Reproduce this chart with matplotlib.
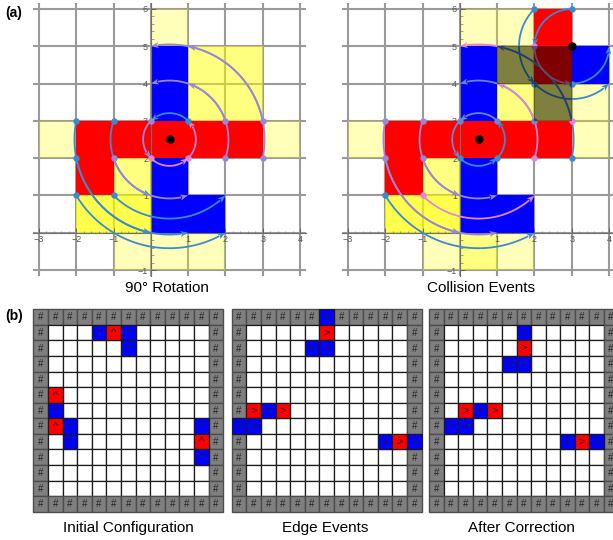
import numpy as np
import matplotlib
matplotlib.use('Agg')
import matplotlib.pyplot as plt
from matplotlib.patches import Rectangle, Polygon
from matplotlib.ticker import MultipleLocator, FixedLocator

plt.rcParams['font.family'] = ['Liberation Sans', 'DejaVu Sans']

W, H = 613, 540
fig = plt.figure(figsize=(W / 100, H / 100), dpi=100)


def ax_px(l, t, r, b):
    return fig.add_axes([l / W, 1 - b / H, (r - l) / W, (b - t) / H])


# ---------------- data: panel (a) ----------------
red_cells = [(-2, 2), (-1, 2), (0, 2), (1, 2), (2, 2), (-2, 1)]
blue_cells = [(0, 3), (0, 4), (0, 0), (0, 1), (1, 0)]
red_cells_2 = [(2, 5), (2, 4)]
blue_cells_2 = [(3, 4)]
overlay_cells = [(1, 4), (2, 4), (2, 3)]

yellow_left = {1: [(0, 5), (-3, 2), (3, 2), (-1, -1), (0, -1), (1, -1)],
               2: [(1, 3), (1, 4), (2, 3), (2, 4), (-1, 1)],
               3: [(-2, 0), (-1, 0)]}
yellow_right = {1: [(0, 5), (1, 5), (-3, 2), (3, 2), (3, 3), (-1, -1), (1, -1)],
                2: [(1, 3), (1, 4), (2, 3), (-1, 1), (0, -1)],
                3: [(-2, 0), (-1, 0)]}

center_1 = (0.5, 2.5)
center_2 = (3, 5)
# arc start points (rotated 90 deg CCW about centre) and colour code
arcs_left = [(-2, 3, 'b'), (-1, 3, 'b'), (0, 3, 'u'), (1, 3, 'b'), (2, 3, 'u'), (3, 3, 'u'),
             (-2, 2, 'b'), (-1, 2, 'u'), (0, 2, 'p'), (1, 2, 'p'), (2, 2, 'u'), (3, 2, 'u'),
             (-2, 1, 'b'), (-1, 1, 'b')]
arcs_right = [(-2, 3, 'u'), (-1, 3, 'u'), (0, 3, 's'), (1, 3, 's'), (2, 3, 's'), (3, 3, 'p'),
              (-2, 2, 'u'), (-1, 2, 'u'), (0, 2, 'b'), (1, 2, 'b'), (2, 2, 'p'), (3, 2, 'b'),
              (-2, 1, 'b'), (-1, 1, 'p')]
arcs_right_2 = [(2, 6, 'b'), (3, 6, 'b'), (2, 5, 'p'), (2, 4, 'b'), (3, 4, 'b')]

x_ticks = [-3, -2, -1, 1, 2, 3, 4]
y_ticks = [-1, 1, 2, 3, 4, 5, 6]

# ---------------- data: panel (b) ----------------
grid_n = 13
init_cells = [(1, 4, 'B', '^'), (1, 5, 'R', '^'), (1, 6, 'B', '^'), (2, 6, 'B', '^'),
              (5, 1, 'R', '^'), (6, 1, 'B', '^'), (7, 1, 'R', '^'), (7, 2, 'B', '^'),
              (8, 2, 'B', '^'), (7, 11, 'B', '^'), (8, 11, 'R', '^'), (9, 11, 'B', '^')]
edge_cells = [(0, 6, 'B', '>'), (1, 6, 'R', '>'), (2, 5, 'B', '>'), (2, 6, 'B', '>'),
              (6, 1, 'R', '>'), (6, 2, 'B', '>'), (6, 3, 'R', '>'), (7, 0, 'B', '>'),
              (7, 1, 'B', '>'), (8, 10, 'B', '>'), (8, 11, 'R', '>'), (8, 12, 'B', '>')]
corr_cells = [(1, 6, 'B', '>'), (2, 6, 'R', '>'), (3, 5, 'B', '>'), (3, 6, 'B', '>'),
              (6, 2, 'R', '>'), (6, 3, 'B', '>'), (6, 4, 'R', '>'), (7, 1, 'B', '>'),
              (7, 2, 'B', '>'), (8, 9, 'B', '>'), (8, 10, 'R', '>'), (8, 11, 'B', '>')]

# ---------------- styles ----------------
ARC_COL = {'b': '#3a8ad0', 'u': '#9a86d8', 'p': '#e585d8', 's': '#6a86d6'}
YEL_ALPHA = {1: 0.27, 2: 0.5, 3: 0.7}
GRID_COL = '#9a9a9a'


def draw_arc(ax, c, s, col, z=3):
    cx, cy = c
    sx, sy = s
    r = np.hypot(sx - cx, sy - cy)
    a0 = np.arctan2(sy - cy, sx - cx)
    a1 = a0 + np.pi / 2
    L = 0.21
    wd = 0.08
    ab = a1 - L / r
    t = np.linspace(a0, ab + 0.02 / r, 80)
    ax.plot(cx + r * np.cos(t), cy + r * np.sin(t), color=col, lw=1.3, zorder=z,
            solid_capstyle='butt')
    tip = np.array([cx + r * np.cos(a1), cy + r * np.sin(a1)])
    base = np.array([cx + r * np.cos(ab), cy + r * np.sin(ab)])
    d = tip - base
    d /= np.hypot(*d)
    n = np.array([-d[1], d[0]])
    notch = base + 0.05 * d
    pts = [tip, base + wd * n, notch, base - wd * n]
    ax.add_patch(Polygon(pts, closed=True, facecolor=col, edgecolor='none', zorder=z))
    ax.plot(sx, sy, 'o', ms=4.6, color=col, mec='none', zorder=z + 0.5)


def draw_panel(ax, yellow, arcs, xmax, extra=False):
    ax.set_xlim(-3.15, xmax)
    ax.set_ylim(-1.15, 6.15)
    for x in range(-3, 5):
        ax.axvline(x, color=GRID_COL, lw=1.5, zorder=0.5)
    for y in range(-1, 7):
        ax.axhline(y, color=GRID_COL, lw=1.5, zorder=0.5)
    for lvl, cells in yellow.items():
        for (x, y) in cells:
            ax.add_patch(Rectangle((x, y), 1, 1, facecolor='#ffff00', alpha=YEL_ALPHA[lvl],
                                   edgecolor='none', zorder=1))
    reds = red_cells + (red_cells_2 if extra else [])
    blues = blue_cells + (blue_cells_2 if extra else [])
    for (x, y) in reds:
        ax.add_patch(Rectangle((x, y), 1, 1, facecolor='#ff0000', edgecolor='none', zorder=2))
    for (x, y) in blues:
        ax.add_patch(Rectangle((x, y), 1, 1, facecolor='#0000ff', edgecolor='none', zorder=2))
    for sx, sy, cc in arcs:
        draw_arc(ax, center_1, (sx, sy), ARC_COL[cc])
    ax.plot(*center_1, 'o', ms=5, color='black', zorder=5)
    if extra:
        for sx, sy, cc in arcs_right_2:
            draw_arc(ax, center_2, (sx, sy), ARC_COL[cc])
        for (x, y) in overlay_cells:
            ax.add_patch(Rectangle((x, y), 1, 1, facecolor='black', alpha=0.5,
                                   edgecolor='none', zorder=3.7))
        ax.plot(*center_2, 'o', ms=5, color='black', zorder=5)
    for sp in ['top', 'right']:
        ax.spines[sp].set_visible(False)
    ax.spines['left'].set_position(('data', 0))
    ax.spines['bottom'].set_position(('data', 0))
    for sp in ['left', 'bottom']:
        ax.spines[sp].set_color('#707070')
        ax.spines[sp].set_linewidth(0.8)
        ax.spines[sp].set_zorder(2.5)
    ax.xaxis.set_major_locator(FixedLocator(x_ticks))
    ax.yaxis.set_major_locator(FixedLocator(y_ticks))
    ax.xaxis.set_minor_locator(MultipleLocator(0.2))
    ax.yaxis.set_minor_locator(MultipleLocator(0.2))
    ax.tick_params(which='major', direction='in', length=3.5, width=0.6, colors='#555555',
                   labelsize=6.5, pad=2)
    ax.tick_params(which='minor', direction='in', length=1.8, width=0.5, colors='#777777')
    ax.patch.set_alpha(0)


axL = ax_px(33.4, 3.4, 305.6, 275.6)
draw_panel(axL, yellow_left, arcs_left, 4.15)
axR = ax_px(342.4, 3.4, 612.8, 275.6)
draw_panel(axR, yellow_right, arcs_right, 4.1, extra=True)

fig.text(167 / W, 1 - 288 / H, '90° Rotation', ha='center', va='center', fontsize=11)
fig.text(481 / W, 1 - 288 / H, 'Collision Events', ha='center', va='center', fontsize=11)
fig.text(5 / W, 1 - 13 / H, '(a)', ha='left', va='center', fontsize=10, fontweight='bold')
fig.text(5 / W, 1 - 316 / H, '(b)', ha='left', va='center', fontsize=10, fontweight='bold')


def draw_grid(ax, cells):
    ax.set_xlim(0, grid_n)
    ax.set_ylim(grid_n, 0)
    ax.axis('off')
    colored = {(r, c): (col, sym) for r, c, col, sym in cells}
    for r in range(grid_n):
        for c in range(grid_n):
            border = r in (0, grid_n - 1) or c in (0, grid_n - 1)
            if (r, c) in colored:
                continue
            if border:
                ax.add_patch(Rectangle((c, r), 1, 1, facecolor='#7f7f7f', edgecolor='#4d4d4d',
                                       lw=1.0, zorder=1, clip_on=False))
                ax.text(c + 0.5, r + 0.52, '#', ha='center', va='center', fontsize=7,
                        color='#262626', zorder=2, clip_on=False)
            else:
                ax.add_patch(Rectangle((c, r), 1, 1, facecolor='white', edgecolor='#1a1a1a',
                                       lw=0.9, zorder=1, clip_on=False))
    for (r, c), (col, sym) in colored.items():
        fc = '#0000ff' if col == 'B' else '#ff0000'
        ax.add_patch(Rectangle((c, r), 1, 1, facecolor=fc, edgecolor='#1a1a1a',
                               lw=0.9, zorder=3, clip_on=False))
        ax.text(c + 0.5, r + 0.55 if sym == '^' else r + 0.5, sym, ha='center', va='center',
                fontsize=8, color='#202020', zorder=4, clip_on=False)


g1 = ax_px(33.3, 309.3, 223.3, 511.7)
draw_grid(g1, init_cells)
g2 = ax_px(231.7, 309.3, 421.7, 511.7)
draw_grid(g2, edge_cells)
g3 = ax_px(429.3, 309.3, 618.3, 511.7)
draw_grid(g3, corr_cells)

fig.text(128 / W, 1 - 528 / H, 'Initial Configuration', ha='center', va='center', fontsize=11)
fig.text(325 / W, 1 - 528 / H, 'Edge Events', ha='center', va='center', fontsize=11)
fig.text(521 / W, 1 - 528 / H, 'After Correction', ha='center', va='center', fontsize=11)

fig.savefig('out.png', dpi=100)
